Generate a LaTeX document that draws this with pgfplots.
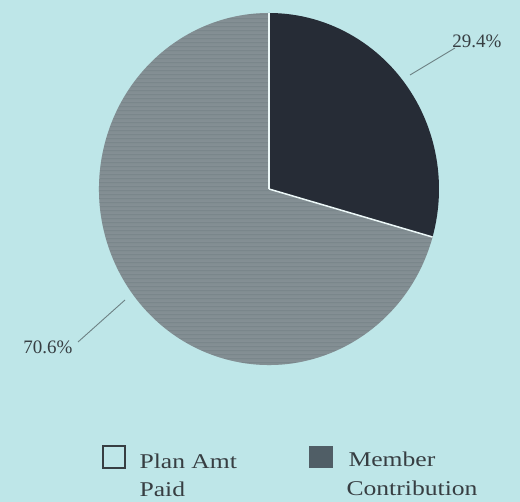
\documentclass[border=0pt]{standalone}
\usepackage{pgfplots}
\pgfplotsset{compat=1.18}
\usepackage{pgfplotstable}
\usepackage{fontspec}
\setmainfont{Liberation Serif}
\newfontfamily\legfont[FakeStretch=1.22]{Liberation Serif}
\usetikzlibrary{patterns}

\definecolor{bg}{RGB}{190,230,232}
\definecolor{plangrey}{RGB}{108,122,128}
\definecolor{memberdark}{RGB}{38,44,54}
\definecolor{legdark}{RGB}{80,94,102}
\definecolor{txt}{RGB}{55,62,66}

% share of each slice, in percent
\pgfplotstableread{
label value
Plan 70.6
Member 29.4
}\piedata

\begin{document}
\begin{tikzpicture}
\pgfplotstablegetelem{0}{value}\of\piedata \let\planval\pgfplotsretval
\pgfplotstablegetelem{1}{value}\of\piedata \let\memval\pgfplotsretval
\pgfmathsetmacro{\splitang}{90-3.6*\memval}
\begin{axis}[
    scale only axis,
    width=520pt, height=502pt,
    xmin=0, xmax=520, ymin=0, ymax=502,
    hide axis, clip=false,
]
\fill[bg] (axis cs:0,0) rectangle (axis cs:520,502);

% slices, clockwise from 12 o'clock (pie is slightly squashed)
\fill[memberdark] (axis cs:269,313) -- ++(0,176pt)
    arc[start angle=90, end angle=\splitang, x radius=170pt, y radius=176pt] -- cycle;
\fill[plangrey] (axis cs:269,313) -- ++({170*cos(\splitang)*1pt},{176*sin(\splitang)*1pt})
    arc[start angle=\splitang, end angle=-270, x radius=170pt, y radius=176pt] -- cycle;
\fill[pattern=horizontal lines light gray, opacity=0.2] (axis cs:269,313) -- ++({170*cos(\splitang)*1pt},{176*sin(\splitang)*1pt})
    arc[start angle=\splitang, end angle=-270, x radius=170pt, y radius=176pt] -- cycle;
\draw[white!70!bg, line width=1.5pt] (axis cs:269,313) -- ++(0,176pt);
\draw[white!70!bg, line width=1.5pt] (axis cs:269,313) -- ++({170*cos(\splitang)*1pt},{176*sin(\splitang)*1pt});

% value labels
\draw[txt!60!bg, line width=0.9pt] (axis cs:410,427) -- (axis cs:455,454);
\draw[txt!60!bg, line width=0.9pt] (axis cs:125,202) -- (axis cs:78,160);
\node[txt, font=\fontsize{19}{21}\selectfont] at (axis cs:477,461) {\memval\%};
\node[txt, font=\fontsize{19}{21}\selectfont] at (axis cs:48,155) {\planval\%};

% legend
\draw[txt, line width=1.2pt, fill=bg] (axis cs:103,34) rectangle (axis cs:125,56);
\fill[legdark] (axis cs:309,34) rectangle (axis cs:333,56);
\node[txt, anchor=base west, font=\legfont\fontsize{21}{24}\selectfont] at (axis cs:136,33) {Plan Amt};
\node[txt, anchor=base west, font=\legfont\fontsize{21}{24}\selectfont] at (axis cs:136,5) {Paid};
\node[txt, anchor=base west, font=\legfont\fontsize{21}{24}\selectfont] at (axis cs:345,35) {Member};
\node[txt, anchor=base west, font=\legfont\fontsize{21}{24}\selectfont] at (axis cs:343,6) {Contribution};
\end{axis}
\pgfresetboundingbox
\useasboundingbox (0,0) rectangle (520pt,502pt);
\end{tikzpicture}
\end{document}
